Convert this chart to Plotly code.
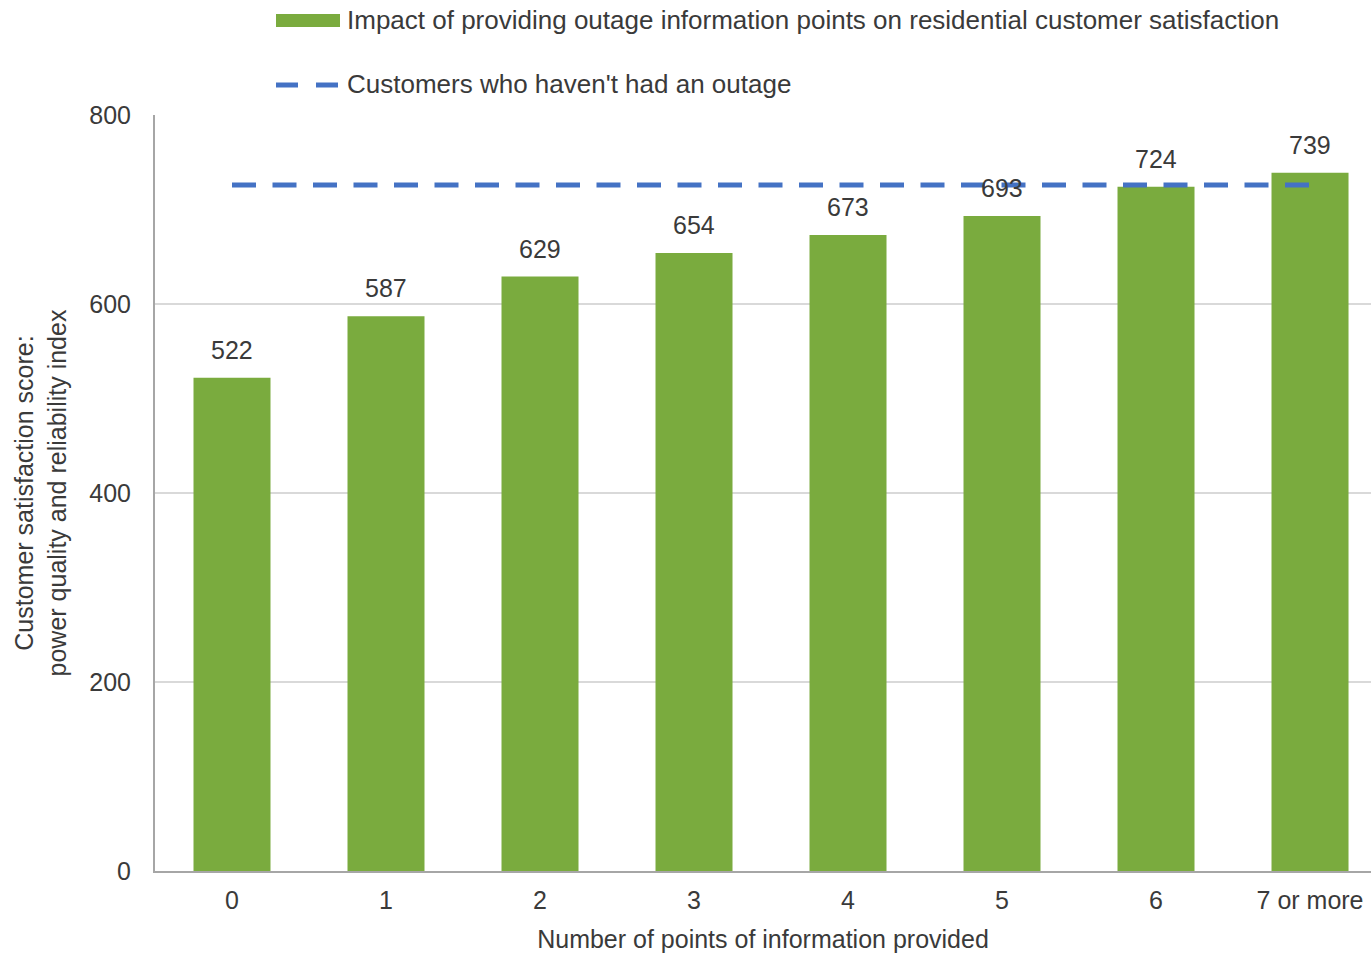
import plotly.graph_objects as go

# Chart data
categories = ["0", "1", "2", "3", "4", "5", "6", "7 or more"]
satisfaction = [522, 587, 629, 654, 673, 693, 724, 739]
no_outage_score = [726] * len(categories)

bar_name = "Impact of providing outage information points on residential customer satisfaction"
line_name = "Customers who haven't had an outage"

GREEN = "#7AAB3E"
BLUE = "#4472C4"
TEXT = "#3a3a3a"
FONT = "Liberation Sans, Arial, sans-serif"
TXT_SIZE = 26
NUM_SIZE = 25

# Plot area in pixels (page is 1371 x 953)
L, R, T, B = 155, 0, 115, 82
W, H = 1371, 953
pw, ph = W - L - R, H - T - B


def px_x(px):
    return (px - L) / pw


def px_y(py):
    return (H - B - py) / ph


fig = go.Figure()
fig.add_trace(go.Bar(
    x=categories, y=satisfaction, name=bar_name,
    marker=dict(color=GREEN, line=dict(width=0)),
    width=0.5,
))
fig.add_trace(go.Scatter(
    x=categories, y=no_outage_score, name=line_name, mode="lines",
    line=dict(color=BLUE, width=5, dash="24px,16.5px"),
))

# Value labels sitting a little above each bar
annotations = [
    dict(x=c, y=v, text=str(v), xref="x", yref="y", showarrow=False,
         yanchor="bottom", yshift=12,
         font=dict(size=NUM_SIZE, color=TEXT, family=FONT))
    for c, v in zip(categories, satisfaction)
]

# Legend drawn as shapes + text, stacked above the plot
shapes = [
    dict(type="rect", xref="paper", yref="paper",
         x0=px_x(276), x1=px_x(340), y0=px_y(27), y1=px_y(14),
         fillcolor=GREEN, line=dict(width=0)),
    dict(type="line", xref="paper", yref="paper",
         x0=px_x(276), x1=px_x(298), y0=px_y(85), y1=px_y(85),
         line=dict(color=BLUE, width=5)),
    dict(type="line", xref="paper", yref="paper",
         x0=px_x(316), x1=px_x(338), y0=px_y(85), y1=px_y(85),
         line=dict(color=BLUE, width=5)),
]
annotations += [
    dict(text=bar_name, xref="paper", yref="paper", x=px_x(345), y=px_y(20),
         xanchor="left", yanchor="middle", showarrow=False,
         font=dict(size=TXT_SIZE, color=TEXT, family=FONT)),
    dict(text=line_name, xref="paper", yref="paper", x=px_x(345), y=px_y(84),
         xanchor="left", yanchor="middle", showarrow=False,
         font=dict(size=TXT_SIZE, color=TEXT, family=FONT)),
]

fig.update_layout(
    width=W, height=H,
    margin=dict(l=L, r=R, t=T, b=B, pad=0),
    paper_bgcolor="white", plot_bgcolor="white",
    showlegend=False,
    bargap=0.5,
    font=dict(family=FONT, size=NUM_SIZE, color=TEXT),
    shapes=shapes, annotations=annotations,
)
fig.update_xaxes(
    type="category", range=[-0.5, 7.396],
    showline=True, linecolor="#a6a6a6", linewidth=2,
    showgrid=False, ticks="", ticklabelstandoff=6,
    tickfont=dict(size=NUM_SIZE, color=TEXT, family=FONT),
    title=dict(text="Number of points of information provided", standoff=17,
               font=dict(size=TXT_SIZE - 1, color=TEXT, family=FONT)),
)
fig.update_yaxes(
    range=[0, 800], tickvals=[0, 200, 400, 600, 800],
    showline=True, linecolor="#a6a6a6", linewidth=2,
    showgrid=True, gridcolor="#d9d9d9", gridwidth=2,
    zeroline=False, ticks="", ticklabelstandoff=17,
    tickfont=dict(size=NUM_SIZE, color=TEXT, family=FONT),
    title=dict(text="Customer satisfaction score:<br>power quality and reliability index",
               standoff=16, font=dict(size=TXT_SIZE - 1, color=TEXT, family=FONT)),
)

fig.write_html("out.html")
